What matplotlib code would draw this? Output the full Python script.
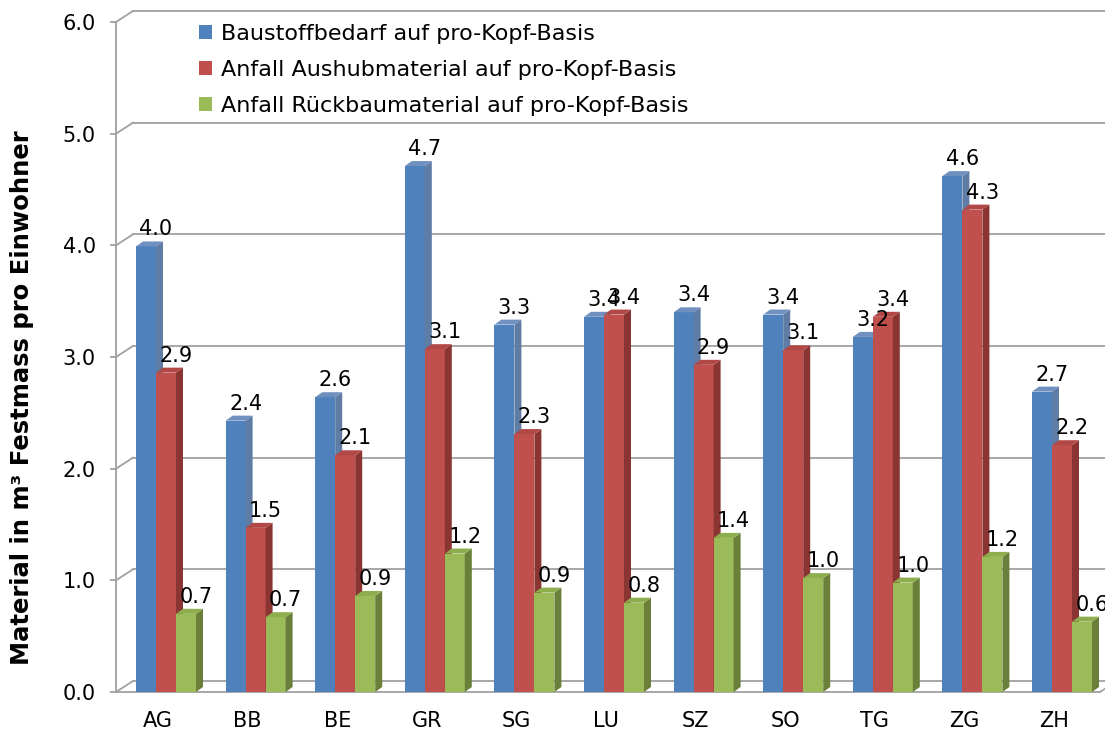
import matplotlib.pyplot as plt
from matplotlib.patches import Polygon, Patch
from matplotlib.transforms import ScaledTranslation

# Werte pro Kanton (m3 Festmass pro Einwohner)
kantone = ["AG", "BB", "BE", "GR", "SG", "LU", "SZ", "SO", "TG", "ZG", "ZH"]
baustoff = [3.99, 2.43, 2.64, 4.71, 3.29, 3.36, 3.40, 3.38, 3.18, 4.62, 2.69]
aushub = [2.86, 1.47, 2.12, 3.07, 2.31, 3.38, 2.93, 3.06, 3.36, 4.32, 2.21]
rueckbau = [0.70, 0.67, 0.86, 1.24, 0.89, 0.80, 1.38, 1.02, 0.98, 1.21, 0.63]

serien = [
    ("Baustoffbedarf auf pro-Kopf-Basis", baustoff, "#4F81BD", "#5E7CA4", "#7090C0"),
    ("Anfall Aushubmaterial auf pro-Kopf-Basis", aushub, "#C0504D", "#8B3533", "#B24845"),
    ("Anfall Rückbaumaterial auf pro-Kopf-Basis", rueckbau, "#9BBB59", "#6A7F3A", "#8EAE4E"),
]
y_ticks = [0, 1, 2, 3, 4, 5, 6]

plt.rcParams["font.family"] = ["DejaVu Sans"]
grau = "#a0a0a0"

fig = plt.figure(figsize=(11.05, 7.35), dpi=100)
ax = fig.add_axes([116 / 1105, 43 / 735, 984 / 1105, 670 / 735])
ax.set_xlim(-0.558, 10.424)
ax.set_ylim(0, 6)


def px_to_data(dx, dy):
    x0, y0 = ax.transData.transform((0, 0))
    return ax.transData.inverted().transform((x0 + dx, y0 + dy))


wdx, wdy = px_to_data(17, 11)   # Tiefe der Rückwand
bdx, bdy = px_to_data(7, 5)     # Tiefe der Säulen
breite = px_to_data(20, 0)[0]
x_links, x_rechts = ax.get_xlim()

# Rückwand mit Gitterlinien
for t in y_ticks:
    ax.plot([x_links, x_links + wdx], [t, t + wdy], color=grau, lw=1.3,
            clip_on=False, zorder=1)
    ax.plot([x_links + wdx, x_rechts + 2 * wdx], [t + wdy, t + wdy],
            color=grau, lw=1.3, clip_on=False, zorder=1)
# Boden vorne rechts
ax.plot([x_rechts, x_rechts + wdx], [0, wdy], color=grau, lw=1.3,
        clip_on=False, zorder=1)

xs = list(range(len(kantone)))
for k, (name, werte, farbe, seite, oben) in enumerate(serien):
    z = 3 + k
    pos = [x + (k - 1) * breite for x in xs]
    ax.bar(pos, werte, width=breite, color=farbe, zorder=z, label=name)
    for p, h in zip(pos, werte):
        xr = p + breite / 2
        xl = p - breite / 2
        ax.add_patch(Polygon([(xr, 0), (xr, h), (xr + bdx, h + bdy), (xr + bdx, bdy)],
                             closed=True, facecolor=seite, edgecolor="none", zorder=z))
        ax.add_patch(Polygon([(xl, h), (xr, h), (xr + bdx, h + bdy), (xl + bdx, h + bdy)],
                             closed=True, facecolor=oben, edgecolor="none", zorder=z))
        ax.annotate(f"{h:.1f}", (p, h), xytext=(10, 17), textcoords="offset pixels",
                    ha="center", va="center", fontsize=15, color="black",
                    annotation_clip=False, zorder=10)

# Achsen
for s in ["top", "right"]:
    ax.spines[s].set_visible(False)
ax.spines["left"].set_color(grau)
ax.spines["left"].set_linewidth(1.3)
ax.spines["bottom"].set_color(grau)
ax.spines["bottom"].set_linewidth(1.3)
ax.set_yticks(y_ticks)
ax.set_yticklabels([f"{t:.1f}" for t in y_ticks])
ax.tick_params(axis="y", length=4.5, width=1.3, color=grau, labelsize=15, pad=10)
ax.set_xticks(xs)
ax.set_xticklabels(kantone)
ax.tick_params(axis="x", length=0, labelsize=15, pad=14)
for lab in ax.get_xticklabels():
    lab.set_transform(lab.get_transform() + ScaledTranslation(-0.08, 0, fig.dpi_scale_trans))

fig.text(22 / 1105, 1 - 398 / 735, "Material in m³ Festmass pro Einwohner",
         rotation=90, ha="center", va="center", fontsize=17.5, fontweight="bold")

handles = [Patch(facecolor=s[2]) for s in serien]
fig.legend(handles, [s[0] for s in serien], loc="upper left",
           bbox_to_anchor=(190 / 1105, 1 - 15 / 735), frameon=False,
           fontsize=16, handlelength=0.6, handleheight=0.6, handletextpad=0.4,
           labelspacing=0.72, borderaxespad=0)

fig.savefig("out.png", dpi=100)
